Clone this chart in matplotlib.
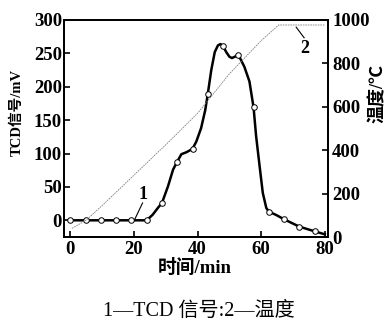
import matplotlib
matplotlib.use("Agg")
import matplotlib.pyplot as plt

plt.rcParams['font.family'] = ['Liberation Serif', 'Noto Sans CJK SC', 'DejaVu Sans']

# TCD signal trace (min, mV)
tcd_time = [0, 4.8, 9.6, 14.4, 19.2, 24.0, 25.9, 27.5, 28.8, 30.7, 32.3, 33.6, 34.9,
            36.5, 38.4, 39.6, 41.1, 42.4, 43.2, 44.3, 45.4, 46.4, 47.2, 48.0, 49.0,
            50.0, 50.8, 51.7, 52.8, 54.7, 56.3, 57.6, 58.4, 59.5, 60.5, 61.6, 62.4,
            64.7, 67.2, 72.0, 76.8, 80.0]
tcd_signal = [0, 0, 0, 0, 0, 0, 8.5, 18.5, 26, 51, 76, 88, 99,
              102, 107, 118, 138, 165, 189, 225, 252, 262, 264, 261, 252,
              245, 243, 245, 248, 230, 208, 169, 126, 81, 41, 18.5, 13,
              8, 1.5, -9.5, -16.5, -21]

# open-circle sample points on the TCD curve
mark_time = [0, 4.8, 9.6, 14.4, 19.2, 24.0, 28.8, 33.6, 38.4, 43.2, 48.0, 52.8,
             57.6, 62.4, 67.2, 72.0, 76.8]
mark_signal = [0, 0, 0, 0, 0, 0, 26, 88, 107, 189, 261, 248, 169, 13, 1.5, -9.5, -16.5]

# furnace temperature (min, degC)
temp_time = [0.5, 2, 5, 10, 20, 30, 40, 50, 60, 65.5, 80]
temp_value = [40, 52, 78, 145, 285, 425, 570, 752, 905, 977, 977]

BOLD = dict(fontweight="bold")

fig = plt.figure(figsize=(3.92, 3.22), dpi=100)
ax = fig.add_axes([64 / 392, 1 - 237 / 322, 264 / 392, 217 / 322])
ax2 = ax.twinx()

ax2.plot(temp_time, temp_value, color="#808080", lw=0.6, ls=(0, (2, 1)))
ax.plot(tcd_time, tcd_signal, color="black", lw=1.8, zorder=3)
ax.plot(mark_time, mark_signal, ls="none", marker="o", ms=4, mfc="white",
        mec="black", mew=0.7, zorder=4)

ax.set_xlim(-2, 81)
ax.set_ylim(-25, 300)
ax2.set_ylim(0, 1000)
ax.set_xticks([0, 20, 40, 60, 80])
ax.set_yticks([0, 50, 100, 150, 200, 250, 300])
ax2.set_yticks([0, 200, 400, 600, 800, 1000])

for a in (ax, ax2):
    for s in a.spines.values():
        s.set_linewidth(1.3)
    a.tick_params(direction="in", length=4, width=1.2, labelsize=13.5)
    for lab in a.get_xticklabels() + a.get_yticklabels():
        lab.set_fontweight("bold")
ax.tick_params(axis="y", pad=1.5)
ax.tick_params(axis="x", pad=3)
ax2.tick_params(axis="y", pad=3)

# curve labels with leader lines
ax.plot([20.2, 22.7], [1, 26], color="black", lw=0.8)
ax.text(22.9, 38, "1", ha="center", va="center", fontsize=13, **BOLD)
ax2.plot([71.0, 73.5], [967, 918], color="black", lw=0.8)
ax2.text(73.6, 870, "2", ha="center", va="center", fontsize=13, **BOLD)

fig.text(17 / 392, 1 - 112 / 322, "TCD信号/mV", rotation=90, ha="center",
         va="center", fontsize=10.5, **BOLD)
fig.text(378 / 392, 1 - 93 / 322, "温度/℃", rotation=90, ha="center",
         va="center", fontsize=13, **BOLD)
fig.text(194.5 / 392, 1 - 268 / 322, "时间/min", ha="center", va="center",
         fontsize=13.5, **BOLD)
fig.text(199 / 392, 1 - 311 / 322, "1—TCD 信号:2—温度", ha="center", va="center",
         fontsize=14.5)

fig.savefig("out.png", dpi=100, facecolor="white")
